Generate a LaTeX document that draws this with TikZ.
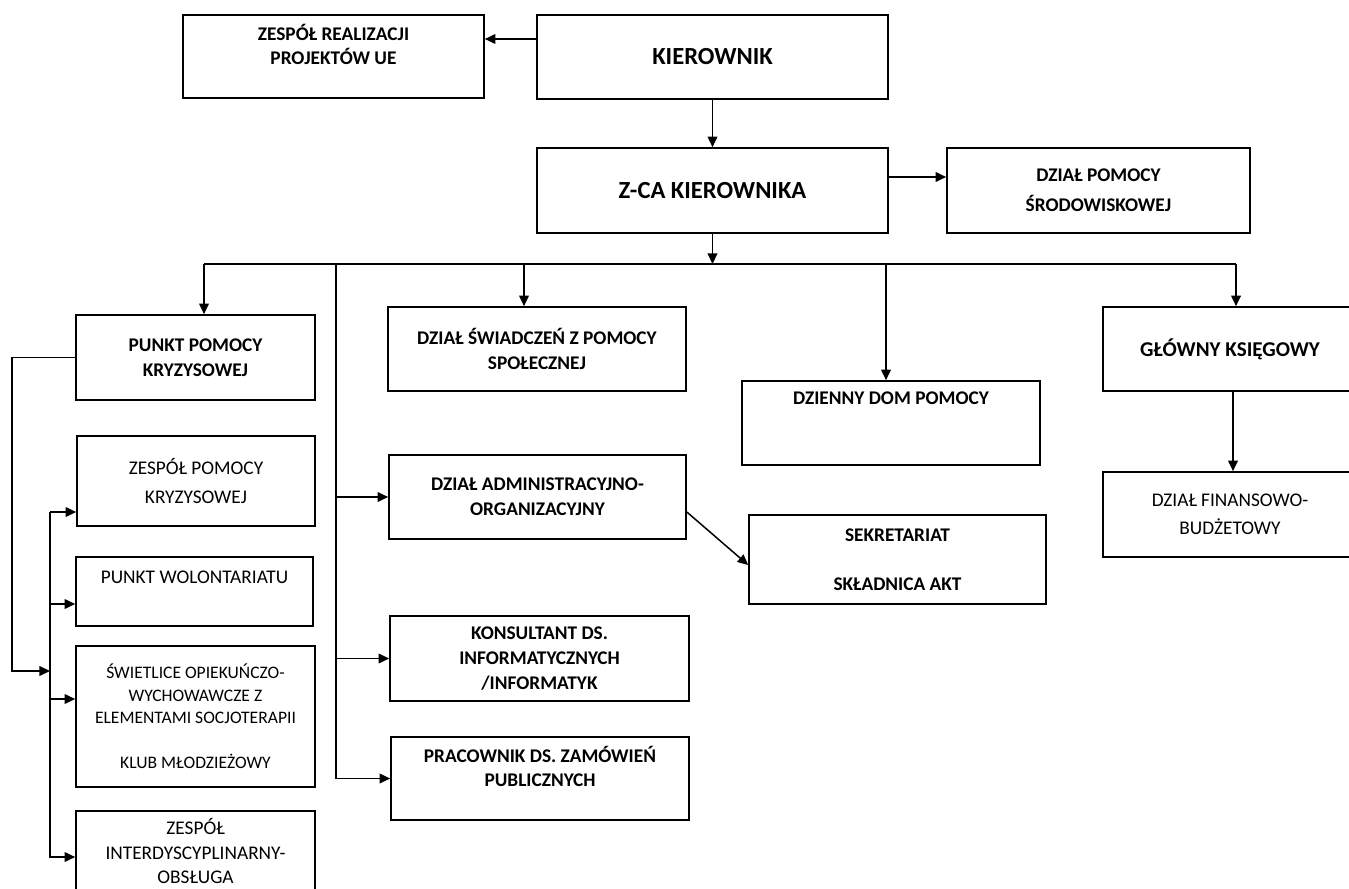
\documentclass[tikz,border=0pt]{standalone}
\usepackage{fontspec}
\setmainfont{Carlito}
\usetikzlibrary{arrows.meta}

\begin{document}
\begin{tikzpicture}[x=0.02cm, y=-0.02cm,
    box/.style = {draw, line width=0.95pt, align=center, inner sep=1pt},
    wh/.style 2 args = {minimum width=#1*\px, minimum height=#2*\px},
    hd/.style = {font=\fontsize{11}{14}\selectfont\bfseries},
    pl/.style = {font=\fontsize{11}{16.5}\selectfont},
    big/.style = {font=\fontsize{14}{17}\selectfont\bfseries},
    arr/.style = {line width=0.85pt, -{Triangle[length=6pt, width=5.5pt]}},
    bus/.style = {line width=0.85pt}]
    \def\px{0.02cm}
    \useasboundingbox (0,0) rectangle (1349,889);

    % top
    \node (kier) [box, big, wh={351}{84}] at (712.5,57) {KIEROWNIK};
    \node (zrp) [box, hd, wh={301}{83}] at (333.5,56.5) {ZESPÓŁ REALIZACJI\\PROJEKTÓW UE\\~};
    \node (zca) [box, big, wh={351}{85}] at (712.5,190.5) {Z-CA KIEROWNIKA};
    \node (dps) [box, font=\fontsize{11}{17}\selectfont\bfseries, wh={303}{85}] at (1098.5,190.5) {DZIAŁ POMOCY\\ŚRODOWISKOWEJ};

    % left column
    \node (ppk) [box, hd, wh={239}{85}] at (195.5,357.5) {PUNKT POMOCY\\KRYZYSOWEJ};
    \node (zpk) [box, pl, wh={238}{90}] at (196,481) {ZESPÓŁ POMOCY\\KRYZYSOWEJ};
    \node (pw) [box, pl, wh={237}{69}] at (194.5,591.5) {PUNKT WOLONTARIATU\\~};
    \node (swi) [box, font=\fontsize{10}{12.8}\selectfont, wh={239}{141}] at (195.5,716.5) {ŚWIETLICE OPIEKUŃCZO-\\WYCHOWAWCZE Z\\ELEMENTAMI SOCJOTERAPII\\~\\KLUB MŁODZIEŻOWY};
    \node (zi) [box, font=\fontsize{11}{13.8}\selectfont, wh={239}{80}] at (195.5,851) {ZESPÓŁ\\INTERDYSCYPLINARNY-\\OBSŁUGA};

    % middle column
    \node (dsw) [box, hd, wh={298}{84}] at (537,349) {DZIAŁ ŚWIADCZEŃ Z POMOCY\\SPOŁECZNEJ};
    \node (dao) [box, hd, wh={297}{84}] at (537.5,497) {DZIAŁ ADMINISTRACYJNO-\\ORGANIZACYJNY};
    \node (kons) [box, hd, wh={299}{85}] at (539.5,658.5) {KONSULTANT DS.\\INFORMATYCZNYCH\\/INFORMATYK};
    \node (prac) [box, hd, wh={298}{83}] at (540,778.5) {PRACOWNIK DS. ZAMÓWIEŃ\\PUBLICZNYCH\\~};

    % right
    \node (ddp) [box, hd, wh={298}{84}] at (891,423) {DZIENNY DOM POMOCY\\~\\~};
    \node (sek) [box, hd, wh={297}{89}] at (897.5,559.5) {SEKRETARIAT\\~\\SKŁADNICA AKT};
    \node (gk) [box, font=\fontsize{12}{14}\selectfont\bfseries, wh={254}{84}] at (1230,349) {GŁÓWNY KSIĘGOWY};
    \node (dfb) [box, font=\fontsize{11}{16}\selectfont, wh={254}{85}] at (1230,514.5) {DZIAŁ FINANSOWO-\\BUDŻETOWY};

    % bus
    \coordinate (bus) at (712.5,264);
    \coordinate (bl) at (204,264);
    \coordinate (br) at (1236,264);
    \coordinate (bm) at (336,264);
    \coordinate (ja) at (50,671);

    \draw[arr] ([yshift=18*\px]kier.west) -- ([yshift=18*\px]kier.west -| zrp.east);
    \draw[arr] (kier) -- (zca);
    \draw[arr] ([yshift=13.5*\px]zca.east) -- ([yshift=13.5*\px]zca.east -| dps.west);
    \draw[arr] (zca) -- (bus);
    \draw[bus] (bl) -- (br);
    \draw[arr] (bl) -- (bl |- ppk.north);
    \draw[arr] ([xshift=-13*\px]dsw.north |- bus) -- ([xshift=-13*\px]dsw.north);
    \draw[arr] ([xshift=-5*\px]ddp.north |- bus) -- ([xshift=-5*\px]ddp.north);
    \draw[arr] (br) -- (br |- gk.north);
    \draw[arr] ([xshift=3*\px]gk.south) -- ([xshift=3*\px]dfb.north);

    % middle branches
    \draw[arr] (bm) |- (prac.west);
    \draw[arr] (bm |- dao.west) -- (dao.west);
    \draw[arr] (bm |- kons.west) -- (kons.west);
    \draw[arr] ([yshift=-15*\px]dao.east) -- ([yshift=-5.5*\px]sek.west);

    % left branches
    \draw[arr] (ppk.west) -- (ppk.west -| 12,0) |- (ja);
    \draw[arr] ([yshift=-31*\px]zpk.west -| ja) |- ([yshift=-6*\px]zi.west);
    \draw[arr] ([yshift=-31*\px]zpk.west -| ja) -- ([yshift=-31*\px]zpk.west);
    \draw[arr] ([yshift=-12.5*\px]pw.west -| ja) -- ([yshift=-12.5*\px]pw.west);
    \draw[arr] ([yshift=17.5*\px]swi.west -| ja) -- ([yshift=17.5*\px]swi.west);
\end{tikzpicture}
\end{document}
